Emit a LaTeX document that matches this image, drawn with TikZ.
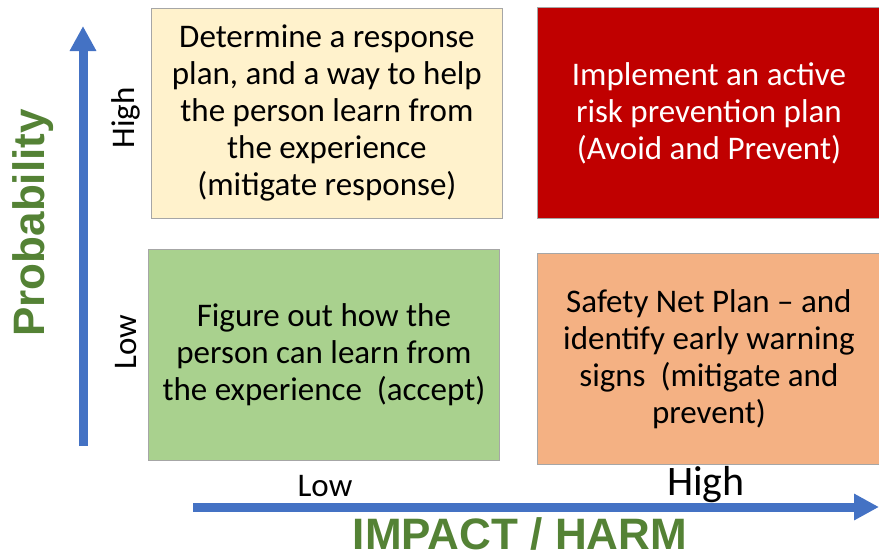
\documentclass[tikz,border=0pt]{standalone}
\usepackage{fontspec}
\setmainfont{Carlito}
\newfontfamily\arialfont{Liberation Sans}
\usetikzlibrary{arrows.meta}

\definecolor{axisblue}{HTML}{4472C4}
\definecolor{labelgreen}{HTML}{548235}
\definecolor{cellyellow}{HTML}{FFF2CC}
\definecolor{cellred}{HTML}{C00000}
\definecolor{cellgreen}{HTML}{A9D18E}
\definecolor{cellorange}{HTML}{F4B183}

\begin{document}
\begin{tikzpicture}[x=1pt,y=-1pt,
    cell/.style={draw=gray!70,line width=0.8pt,anchor=north west,align=center,
                 inner sep=0pt,font=\fontsize{33}{37}\selectfont},
    axis/.style={draw=axisblue,line width=9pt,-{Triangle[width=25pt,length=25pt]}},
    level/.style={font=\fontsize{33}{37}\selectfont},
    title/.style={text=labelgreen,font=\arialfont\bfseries\fontsize{44}{48}\selectfont}]
    \useasboundingbox (0,0) rectangle (879,558);
    % the four cells of the matrix
    \node[cell,fill=cellyellow,minimum width=351pt,minimum height=210pt] (hilo) at (151,8)
        {Determine a response\\plan, and a way to help\\the person learn from\\the experience\\(mitigate response)};
    \node[cell,fill=cellred,text=white,minimum width=343pt,minimum height=211pt] (hihi) at (537,7)
        {Implement an active\\risk prevention plan\\(Avoid and Prevent)};
    \node[cell,fill=cellgreen,minimum width=351pt,minimum height=211pt] (lolo) at (148,249)
        {Figure out how the\\person can learn from\\the experience\ \ (accept)};
    \node[cell,fill=cellorange,minimum width=343pt,minimum height=211pt] (lohi) at (537,253)
        {Safety Net Plan -- and\\identify early warning\\signs\ \ (mitigate and\\prevent)};
    % axes
    \coordinate (ybot) at (83,446);
    \coordinate (ytop) at (83,26);
    \coordinate (xleft) at (193,507);
    \coordinate (xright) at (879,507);
    \draw[axis] (ybot) -- (ytop);
    \draw[axis] (xleft) -- (xright);
    % levels along the axes
    \foreach \y/\n in {118/High,342/Low}
    {
        \node[level,rotate=90] (p\n) at (126,\y) {\n};
    }
    \node[level] (iLow) at (325,486) {Low};
    \node[level,font=\fontsize{42}{46}\selectfont] (iHigh) at (706,485) {High};
    \node[title,rotate=90] (prob) at (33,223) {Probability};
    \node[title] (impact) at (520,534) {IMPACT / HARM};
\end{tikzpicture}
\end{document}
